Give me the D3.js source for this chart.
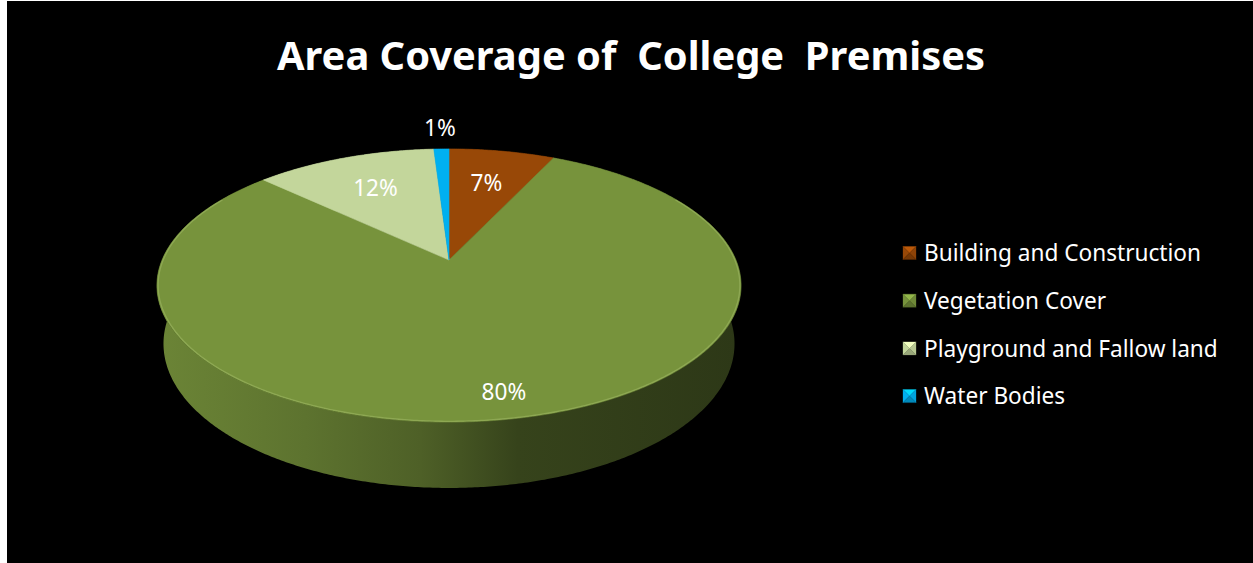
<!DOCTYPE html>
<html>
<head>
<meta charset="utf-8">
<script src="https://cdn.jsdelivr.net/npm/d3@7"></script>
<style>
  body { margin: 0; background: #ffffff; }
  text { font-family: "Noto Sans", "Open Sans", sans-serif; }
</style>
</head>
<body>
<div id="pie_chart"></div>
<script>
var WIDTH = 1253,
    HEIGHT = 563;

/* Data */
var title = "Area Coverage of  College  Premises";
var categories = ["Building and Construction", "Vegetation Cover", "Playground and Fallow land", "Water Bodies"];
var values = [7, 80, 12, 1];
var colors = ["#984807", "#77933C", "#C3D69B", "#00B0F0"];

/* 3D view of the disc: radius 1, seen in perspective from above */
var view = {
    cx: 449, cy: 260,      // screen position of the disc centre
    focal: 1365,           // focal length in px
    dist: 4.757,           // camera distance, in radii
    elev: Math.asin(0.4594),
    depth: 0.23            // thickness, in radii
};
var sinE = Math.sin(view.elev),
    cosE = Math.cos(view.elev);

// angle a is measured clockwise from 12 o'clock (the back of the disc), like d3.pie
function project(r, a, w){
    var u = r * Math.sin(a),
        v = r * Math.cos(a);
    var z = v * cosE + view.dist - w * sinE;
    var y = v * sinE + w * cosE;
    return [view.cx + view.focal * u / z, view.cy - view.focal * y / z];
}

function arcPoints(a0, a1, r, w){
    var n = Math.max(2, Math.ceil(Math.abs(a1 - a0) / (Math.PI / 360)));
    return d3.range(n + 1).map(function(i){
        return project(r, a0 + (a1 - a0) * i / n, w);
    });
}

var line = d3.line().curve(d3.curveLinear);

/* SVG */
var svg = d3.select("#pie_chart")
    .append("svg")
        .attr("width", WIDTH)
        .attr("height", HEIGHT)
        .style("display", "block");

svg.append("rect")
    .attr("x", 7)
    .attr("y", 1)
    .attr("width", WIDTH - 7)
    .attr("height", HEIGHT - 1)
    .attr("fill", "#000000");

var defs = svg.append("defs");

/* Title */
var titleText = svg.append("text")
    .attr("x", 631)
    .attr("y", 70)
    .attr("text-anchor", "middle")
    .attr("fill", "#ffffff")
    .attr("font-weight", "bold")
    .attr("font-size", 40)
    .style("white-space", "pre")
    .text(title);
titleText.attr("textLength", 708).attr("lengthAdjust", "spacingAndGlyphs");

/* Pie layout */
var pie = d3.pie().sort(null).value(function(d){ return d; });
var arcs = pie(values);
var total = d3.sum(values);
var pct = d3.format(".0%");

// side gradients, one per slice colour
var left = project(1, -Math.PI / 2, 0)[0],
    right = project(1, Math.PI / 2, 0)[0];
arcs.forEach(function(d, i){
    var c = d3.color(colors[i]);
    var g = defs.append("linearGradient")
        .attr("id", "wall-" + i)
        .attr("gradientUnits", "userSpaceOnUse")
        .attr("x1", left).attr("x2", right)
        .attr("y1", 0).attr("y2", 0);
    [[0, 0.3], [0.25, 0.7], [0.45, 1.2], [0.62, 2.2], [1, 2.7]].forEach(function(s){
        g.append("stop")
            .attr("offset", s[0])
            .attr("stop-color", c.darker(s[1]).formatHex());
    });
});

var main = svg.append("g").attr("class", "pie");

/* Walls - back to front */
var walls = arcs.map(function(d, i){ return {d: d, i: i}; })
    .sort(function(a, b){
        return Math.cos((b.d.startAngle + b.d.endAngle) / 2) - Math.cos((a.d.startAngle + a.d.endAngle) / 2);
    })
    .reverse();

main.selectAll(".wall")
    .data(walls)
    .enter()
    .append("path")
        .attr("class", "wall")
        .attr("fill", function(w){ return "url(#wall-" + w.i + ")"; })
        .attr("d", function(w){
            var top = arcPoints(w.d.startAngle, w.d.endAngle, 1, 0);
            var bottom = arcPoints(w.d.endAngle, w.d.startAngle, 1, -view.depth);
            return line(top.concat(bottom)) + "Z";
        });

/* Top faces */
main.selectAll(".slice")
    .data(arcs)
    .enter()
    .append("path")
        .attr("class", "slice")
        .attr("fill", function(d, i){ return colors[i]; })
        .attr("stroke", function(d, i){ return colors[i]; })
        .attr("stroke-width", 0.6)
        .attr("d", function(d){
            var pts = [project(0, 0, 0)].concat(arcPoints(d.startAngle, d.endAngle, 1, 0));
            return line(pts) + "Z";
        });

// light bevel on the front rim
main.append("path")
    .attr("fill", "none")
    .attr("stroke", "#c4dc8a")
    .attr("stroke-opacity", 0.3)
    .attr("stroke-width", 1.3)
    .attr("d", line(arcPoints(Math.PI / 3, Math.PI * 5 / 3, 0.996, 0)));

/* Data labels */
function labelRadius(frac){
    if (frac < 0.03) return 1.24;   // too small: put it outside
    if (frac > 0.5) return 0.86;
    return 0.67;
}

var labels = main.selectAll(".label")
    .data(arcs)
    .enter()
    .append("text")
        .attr("class", "label")
        .attr("text-anchor", "middle")
        .attr("dy", "0.36em")
        .attr("fill", "#ffffff")
        .attr("font-size", 23)
        .attr("transform", function(d){
            var frac = d.value / total;
            var p = project(labelRadius(frac), (d.startAngle + d.endAngle) / 2, 0);
            return "translate(" + p[0] + "," + p[1] + ")";
        })
        .text(function(d){ return pct(d.value / total); });

/* Legend */
var legend = svg.append("g")
    .attr("class", "legend")
    .attr("transform", "translate(903, 253)");

var rows = legend.selectAll(".row")
    .data(categories)
    .enter()
    .append("g")
        .attr("class", "row")
        .attr("transform", function(d, i){ return "translate(0," + (i * 47.7) + ")"; });

var M = 13, h = M / 2;
var facets = [
    {pts: [[0, 0], [M, 0], [h, h]], k: -0.6},   // top, lit
    {pts: [[0, 0], [h, h], [0, M]], k: 0},
    {pts: [[M, 0], [M, M], [h, h]], k: 0.2},
    {pts: [[0, M], [h, h], [M, M]], k: 0.7}     // bottom, shaded
];
rows.each(function(d, i){
    var g = d3.select(this).append("g").attr("transform", "translate(0," + (-h) + ")");
    var c = d3.color(colors[i]);
    facets.forEach(function(f){
        g.append("path")
            .attr("d", line(f.pts) + "Z")
            .attr("fill", (f.k < 0 ? c.brighter(-f.k) : c.darker(f.k)).formatHex())
            .attr("stroke", (f.k < 0 ? c.brighter(-f.k) : c.darker(f.k)).formatHex())
            .attr("stroke-width", 0.3);
    });
});

var legendText = rows.append("text")
    .attr("x", 21)
    .attr("dy", "0.36em")
    .attr("fill", "#ffffff")
    .attr("font-size", 23)
    .text(function(d){ return d; });

/* Narrow the sans glyphs so they take the width of the original face */
var squeeze = 277 / legendText.node().getComputedTextLength();
legendText.each(function(){
    this.setAttribute("textLength", this.getComputedTextLength() * squeeze);
    this.setAttribute("lengthAdjust", "spacingAndGlyphs");
});
labels.each(function(){
    this.setAttribute("textLength", this.getComputedTextLength() * squeeze);
    this.setAttribute("lengthAdjust", "spacingAndGlyphs");
});
</script>
</body>
</html>
